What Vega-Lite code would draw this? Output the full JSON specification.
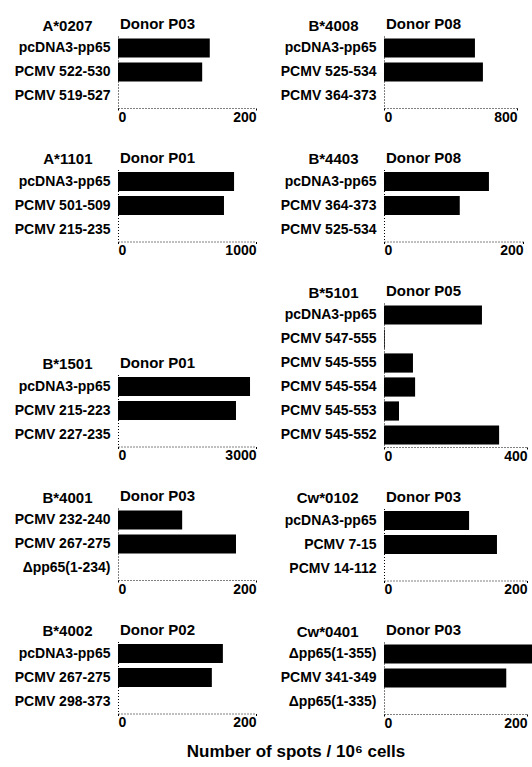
{
  "$schema": "https://vega.github.io/schema/vega-lite/v6.json",
  "padding": {"left": 14, "top": 17, "right": 0, "bottom": 2},
  "background": "white",
  "data": {"values": [
    {"panel": "A*0207", "label": "pcDNA3-pp65", "value": 133},
    {"panel": "A*0207", "label": "PCMV 522-530", "value": 122},
    {"panel": "A*0207", "label": "PCMV 519-527", "value": 0},
    {"panel": "B*4008", "label": "pcDNA3-pp65", "value": 547},
    {"panel": "B*4008", "label": "PCMV 525-534", "value": 595},
    {"panel": "B*4008", "label": "PCMV 364-373", "value": 0},
    {"panel": "A*1101", "label": "pcDNA3-pp65", "value": 841},
    {"panel": "A*1101", "label": "PCMV 501-509", "value": 768},
    {"panel": "A*1101", "label": "PCMV 215-235", "value": 0},
    {"panel": "B*4403", "label": "pcDNA3-pp65", "value": 151},
    {"panel": "B*4403", "label": "PCMV 364-373", "value": 109},
    {"panel": "B*4403", "label": "PCMV 525-534", "value": 0},
    {"panel": "B*1501", "label": "pcDNA3-pp65", "value": 2870},
    {"panel": "B*1501", "label": "PCMV 215-223", "value": 2565},
    {"panel": "B*1501", "label": "PCMV 227-235", "value": 0},
    {"panel": "B*5101", "label": "pcDNA3-pp65", "value": 274},
    {"panel": "B*5101", "label": "PCMV 547-555", "value": 2},
    {"panel": "B*5101", "label": "PCMV 545-555", "value": 81},
    {"panel": "B*5101", "label": "PCMV 545-554", "value": 87},
    {"panel": "B*5101", "label": "PCMV 545-553", "value": 42},
    {"panel": "B*5101", "label": "PCMV 545-552", "value": 322},
    {"panel": "B*4001", "label": "PCMV 232-240", "value": 93},
    {"panel": "B*4001", "label": "PCMV 267-275", "value": 171},
    {"panel": "B*4001", "label": "Δpp65(1-234)", "value": 0},
    {"panel": "Cw*0102", "label": "pcDNA3-pp65", "value": 119},
    {"panel": "Cw*0102", "label": "PCMV 7-15", "value": 158},
    {"panel": "Cw*0102", "label": "PCMV 14-112", "value": 0},
    {"panel": "B*4002", "label": "pcDNA3-pp65", "value": 152},
    {"panel": "B*4002", "label": "PCMV 267-275", "value": 136},
    {"panel": "B*4002", "label": "PCMV 298-373", "value": 0},
    {"panel": "Cw*0401", "label": "Δpp65(1-355)", "value": 215},
    {"panel": "Cw*0401", "label": "PCMV 341-349", "value": 171},
    {"panel": "Cw*0401", "label": "Δpp65(1-335)", "value": 0}
  ]},
  "title": {"text": "Number of spots / 10⁶ cells", "orient": "bottom", "anchor": "middle", "frame": "bounds", "offset": 14, "dx": 20, "fontSize": 17},
  "spacing": 23,
  "hconcat": [
    {"spacing": 26.5, "vconcat": [
      {"width": 138, "height": 72, "title": {"text": "Donor  P03"},
       "transform": [{"filter": "datum.panel === 'A*0207'"}],
       "mark": {"type": "bar", "color": "black"},
       "encoding": {
         "y": {"field": "label", "type": "nominal", "sort": null, "axis": {"title": "A*0207"}},
         "x": {"field": "value", "type": "quantitative", "scale": {"domain": [0, 200], "nice": false}, "axis": {"values": [0, 200], "title": null}}}},
      {"width": 138, "height": 72, "title": {"text": "Donor  P01"},
       "transform": [{"filter": "datum.panel === 'A*1101'"}],
       "mark": {"type": "bar", "color": "black"},
       "encoding": {
         "y": {"field": "label", "type": "nominal", "sort": null, "axis": {"title": "A*1101"}},
         "x": {"field": "value", "type": "quantitative", "scale": {"domain": [0, 1000], "nice": false}, "axis": {"values": [0, 1000], "title": null}}}},
      {"width": 138, "height": 45, "data": {"values": []}, "mark": "point"},
      {"width": 138, "height": 72, "title": {"text": "Donor  P01"},
       "transform": [{"filter": "datum.panel === 'B*1501'"}],
       "mark": {"type": "bar", "color": "black"},
       "encoding": {
         "y": {"field": "label", "type": "nominal", "sort": null, "axis": {"title": "B*1501"}},
         "x": {"field": "value", "type": "quantitative", "scale": {"domain": [0, 3000], "nice": false}, "axis": {"values": [0, 3000], "title": null}}}},
      {"width": 138, "height": 72, "title": {"text": "Donor  P03"},
       "transform": [{"filter": "datum.panel === 'B*4001'"}],
       "mark": {"type": "bar", "color": "black"},
       "encoding": {
         "y": {"field": "label", "type": "nominal", "sort": null, "axis": {"title": "B*4001"}},
         "x": {"field": "value", "type": "quantitative", "scale": {"domain": [0, 200], "nice": false}, "axis": {"values": [0, 200], "title": null}}}},
      {"width": 138, "height": 72, "title": {"text": "Donor  P02"},
       "transform": [{"filter": "datum.panel === 'B*4002'"}],
       "mark": {"type": "bar", "color": "black"},
       "encoding": {
         "y": {"field": "label", "type": "nominal", "sort": null, "axis": {"title": "B*4002"}},
         "x": {"field": "value", "type": "quantitative", "scale": {"domain": [0, 200], "nice": false}, "axis": {"values": [0, 200], "title": null}}}}
    ]},
    {"spacing": 26.5, "vconcat": [
      {"width": 133, "height": 72, "title": {"text": "Donor  P08"},
       "transform": [{"filter": "datum.panel === 'B*4008'"}],
       "mark": {"type": "bar", "color": "black"},
       "encoding": {
         "y": {"field": "label", "type": "nominal", "sort": null, "axis": {"title": "B*4008"}},
         "x": {"field": "value", "type": "quantitative", "scale": {"domain": [0, 800], "nice": false}, "axis": {"values": [0, 800], "title": null}}}},
      {"width": 139, "height": 72, "title": {"text": "Donor  P08"},
       "transform": [{"filter": "datum.panel === 'B*4403'"}],
       "mark": {"type": "bar", "color": "black"},
       "encoding": {
         "y": {"field": "label", "type": "nominal", "sort": null, "axis": {"title": "B*4403"}},
         "x": {"field": "value", "type": "quantitative", "scale": {"domain": [0, 200], "nice": false}, "axis": {"values": [0, 200], "title": null}}}},
      {"width": 143, "height": 144, "title": {"text": "Donor  P05"},
       "transform": [{"filter": "datum.panel === 'B*5101'"}],
       "mark": {"type": "bar", "color": "black"},
       "encoding": {
         "y": {"field": "label", "type": "nominal", "sort": null, "axis": {"title": "B*5101"}},
         "x": {"field": "value", "type": "quantitative", "scale": {"domain": [0, 400], "nice": false}, "axis": {"values": [0, 400], "title": null}}}},
      {"width": 143, "height": 72, "title": {"text": "Donor  P03"},
       "transform": [{"filter": "datum.panel === 'Cw*0102'"}],
       "mark": {"type": "bar", "color": "black"},
       "encoding": {
         "y": {"field": "label", "type": "nominal", "sort": null, "axis": {"title": "Cw*0102"}},
         "x": {"field": "value", "type": "quantitative", "scale": {"domain": [0, 200], "nice": false}, "axis": {"values": [0, 200], "title": null}}}},
      {"width": 143, "height": 72, "title": {"text": "Donor  P03"},
       "transform": [{"filter": "datum.panel === 'Cw*0401'"}],
       "mark": {"type": "bar", "color": "black"},
       "encoding": {
         "y": {"field": "label", "type": "nominal", "sort": null, "axis": {"title": "Cw*0401"}},
         "x": {"field": "value", "type": "quantitative", "scale": {"domain": [0, 200], "nice": false}, "axis": {"values": [0, 200], "title": null}}}}
    ]}
  ],
  "config": {
    "view": {"stroke": null},
    "font": "Liberation Sans",
    "scale": {"bandPaddingInner": 0.2, "bandPaddingOuter": 0.1},
    "axis": {"labelFont": "Liberation Sans", "labelFontWeight": "bold", "labelColor": "black", "domainColor": "black", "domainDash": [1, 2], "tickColor": "black", "grid": false, "titleFont": "Liberation Sans", "titleColor": "black"},
    "axisY": {"ticks": false, "labelFontSize": 14, "labelPadding": 8, "labelLimit": 200, "titleAngle": 0, "titleAlign": "right", "titleBaseline": "alphabetic", "titleX": -26, "titleY": -6, "titleFontSize": 15, "titleFontWeight": "bold"},
    "axisX": {"labelFontSize": 14, "labelFlush": true, "tickSize": 2, "labelPadding": 0, "format": "d"},
    "title": {"font": "Liberation Sans", "fontSize": 15, "fontWeight": "bold", "color": "black", "frame": "group", "anchor": "start", "offset": -14, "dx": 2}
  }
}
